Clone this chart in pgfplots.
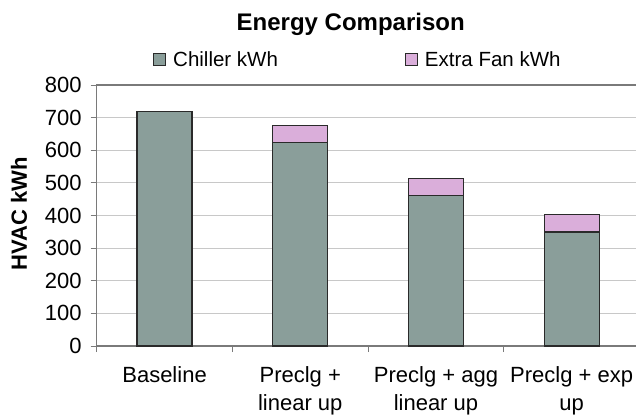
\documentclass[border=0pt]{standalone}
\usepackage{fontspec}
\setmainfont{Liberation Sans}
\usepackage{pgfplots}
\pgfplotsset{compat=1.18}
\definecolor{chiller}{HTML}{8A9E9A}
\definecolor{fan}{HTML}{DAAEDA}
\definecolor{edgec}{HTML}{2A2A2A}
\definecolor{gridc}{HTML}{C8C8C8}
\definecolor{axisc}{HTML}{7A7A7A}
\pgfplotsset{boxlegend/.style={legend image code/.code={\draw[##1, line width=1bp] (0bp,-6bp) rectangle (12bp,6bp);}}}
\begin{document}
\begin{tikzpicture}[x=1bp,y=1bp]
\useasboundingbox (0,0) rectangle (636,417);
\begin{axis}[
  at={(96.7bp,71bp)}, anchor=south west,
  scale only axis, width=556.4bp, height=261bp,
  xmin=-0.5, xmax=3.6, ymin=0, ymax=800,
  ybar stacked, bar width=0.405,
  xtick={0,1,2,3},
  xticklabels={Baseline,{Preclg +\\linear up},{Preclg + agg\\linear up},{Preclg + exp\\up}},
  major x tick style={draw=none},
  minor xtick={-0.5,0.5,1.5,2.5,3.5},
  minor tick length=6bp,
  ytick={0,100,...,800},
  ymajorgrids, grid style={gridc, line width=1bp},
  tick align=outside, major tick length=6bp,
  tick style={axisc, line width=1bp},
  xtick pos=bottom, ytick pos=left,
  axis line style={axisc, line width=1.2bp},
  /pgf/number format/assume math mode=true,
  yticklabel style={font=\fontsize{22bp}{26bp}\selectfont, anchor=east, inner sep=0pt, xshift=-9bp},
  xticklabel style={font=\fontsize{22bp}{28.2bp}\selectfont, align=center, anchor=north, inner sep=0pt, yshift=-14bp},
  ylabel={HVAC kWh},
  ylabel style={at={(axis description cs:-0.1395,0.506)}, anchor=center, font=\bfseries\fontsize{22bp}{26bp}\selectfont},
  title={Energy Comparison},
  title style={at={(axis description cs:0.4565,1.184)}, anchor=base, font=\bfseries\fontsize{24bp}{28bp}\selectfont},
  legend columns=2,
  legend style={draw=none, fill=none, inner sep=0pt, at={(axis description cs:0.1012,1.0958)}, anchor=west,
    font=\fontsize{20.5bp}{24bp}\selectfont,
    /tikz/every odd column/.append style={column sep=5bp},
    /tikz/every even column/.append style={column sep=125bp}},
]
\addplot[fill=chiller, draw=edgec, line width=1.3bp, boxlegend]
  coordinates {(0,719) (1,623) (2,461) (3,349)};
\addlegendentry{Chiller kWh}
\addplot[fill=fan, draw=edgec, line width=1.3bp, boxlegend]
  coordinates {(0,0) (1,53) (2,53) (3,55)};
\addlegendentry{Extra Fan kWh}
\end{axis}
\end{tikzpicture}
\end{document}
